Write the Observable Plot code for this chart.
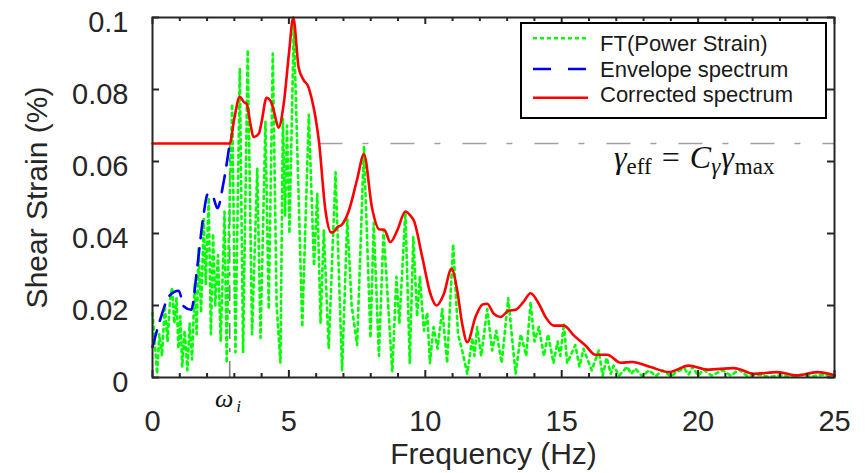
<!DOCTYPE html>
<html><head><meta charset="utf-8">
<script src="https://cdn.jsdelivr.net/npm/d3@7"></script>
<script src="https://cdn.jsdelivr.net/npm/@observablehq/plot@0.6"></script>
<style>
body{margin:0;background:#fff;}
#wrap{position:relative;width:866px;height:473px;}
#ov{position:absolute;left:0;top:0;pointer-events:none;}
</style></head>
<body><div id="wrap"></div>
<script>
// ---- data (frequency Hz, shear strain %) ----
const ftSpectrum = [
 [0.00,0.018],[0.10,0.008],[0.17,0.001],[0.25,0.012],[0.35,0.006],[0.45,0.020],[0.55,0.010],[0.65,0.022],
 [0.72,0.025],[0.80,0.015],[0.88,0.022],[0.95,0.008],[1.02,0.017],[1.09,0.003],[1.18,0.013],[1.28,0.002],
 [1.36,0.015],[1.45,0.005],[1.55,0.026],[1.62,0.012],[1.69,0.036],[1.78,0.018],[1.88,0.044],[1.95,0.026],
 [2.06,0.050],[2.14,0.012],[2.22,0.040],[2.30,0.020],[2.40,0.034],[2.50,0.010],[2.64,0.046],[2.72,0.004],
 [2.80,0.040],[2.92,0.076],[3.04,0.007],[3.20,0.086],[3.32,0.007],[3.49,0.091],[3.65,0.012],[3.84,0.058],
 [3.96,0.011],[4.14,0.071],[4.26,0.019],[4.41,0.090],[4.55,0.020],[4.69,0.004],[4.78,0.072],[4.86,0.045],
 [4.93,0.070],[5.02,0.040],[5.18,0.098],[5.49,0.014],[5.73,0.073],[5.92,0.031],[6.04,0.051],[6.16,0.015],
 [6.28,0.041],[6.46,0.008],[6.71,0.057],[6.95,0.002],[7.14,0.044],[7.30,0.020],[7.50,0.009],[7.75,0.064],
 [7.99,0.011],[8.11,0.043],[8.30,0.006],[8.47,0.041],[8.79,0.0015],[8.94,0.028],[9.05,0.015],[9.27,0.046],
 [9.43,0.004],[9.56,0.039],[9.70,0.017],[9.80,0.028],[9.95,0.013],[10.07,0.018],[10.17,0.004],[10.30,0.014],
 [10.45,0.008],[10.62,0.019],[10.80,0.004],[11.02,0.037],[11.20,0.012],[11.35,0.0075],[11.54,0.001],[11.72,0.011],
 [11.80,0.006],[11.90,0.014],[12.05,0.006],[12.27,0.019],[12.45,0.0075],[12.60,0.013],[12.80,0.004],[13.04,0.022],
 [13.31,0.001],[13.50,0.012],[13.70,0.006],[13.86,0.021],[14.00,0.010],[14.16,0.014],[14.35,0.006],[14.50,0.012],
 [14.70,0.004],[14.85,0.010],[14.95,0.006],[15.08,0.015],[15.20,0.004],[15.50,0.009],[15.65,0.003],[15.80,0.008],
 [16.10,0.002],[16.36,0.0075],[16.50,0.0005],[16.65,0.0055],[16.80,0.001],[16.90,0.0033],[17.10,0.0005],[17.40,0.003],
 [17.55,0.001],[17.70,0.0025],[17.95,0.0003],[18.20,0.002],[18.45,0.0004],[18.70,0.002],[19.00,0.0003],[19.20,0.0015],
 [19.50,0.0025],[19.65,0.0008],[19.80,0.003],[20.00,0.0005],[20.20,0.0022],[20.50,0.0005],[20.90,0.002],[21.20,0.0005],
 [21.50,0.0022],[21.80,0.0004],[22.20,0.0008],[22.60,0.0002],[23.00,0.0006],[23.40,0.0002],[23.80,0.0008],[24.20,0.0003],
 [24.60,0.0008],[25.00,0.0002]
];
const envelopeSpectrum = [
 [0,0.0085],[0.3,0.0165],[0.6,0.0225],[0.96,0.0241],[1.15,0.0197],[1.42,0.0188],[1.64,0.0306],[1.85,0.044],
 [2.03,0.051],[2.2,0.0505],[2.38,0.047],[2.6,0.054],[2.83,0.065]
];
const correctedSpectrum = [
 [0,0.065],[2.83,0.065],[3.0,0.072],[3.2,0.078],[3.35,0.0765],[3.45,0.076],[3.6,0.07],[3.7,0.0668],[3.9,0.0678],
 [4.0,0.071],[4.18,0.0777],[4.35,0.0765],[4.45,0.074],[4.62,0.0694],[4.81,0.076],[5.0,0.0898],[5.16,0.1],
 [5.36,0.086],[5.55,0.0825],[5.7,0.081],[5.85,0.077],[5.98,0.072],[6.1,0.0657],[6.34,0.0464],[6.55,0.0403],
 [6.65,0.0405],[6.77,0.0417],[6.95,0.0425],[7.2,0.0464],[7.5,0.055],[7.75,0.062],[8.05,0.047],[8.3,0.0412],
 [8.5,0.041],[8.72,0.0376],[8.97,0.0408],[9.27,0.0461],[9.45,0.045],[9.58,0.0436],[9.89,0.0334],[10.19,0.0232],
 [10.41,0.02],[10.68,0.0232],[10.96,0.0302],[11.17,0.0242],[11.35,0.015],[11.54,0.0098],[11.84,0.0168],[12.1,0.0203],
 [12.27,0.0205],[12.51,0.0177],[12.76,0.0168],[13.06,0.0186],[13.31,0.0188],[13.6,0.021],[13.86,0.0234],[14.16,0.0205],
 [14.41,0.0168],[14.71,0.0144],[15.08,0.0144],[15.44,0.0117],[15.87,0.0089],[16.24,0.0063],[16.67,0.0063],[17.16,0.0041],
 [17.58,0.0043],[18.26,0.0029],[18.93,0.0015],[19.66,0.0033],[20.33,0.0022],[21.31,0.0026],[21.55,0.0022],[22.04,0.001],
 [22.9,0.0015],[23.63,0.0006],[24.36,0.0015],[25,0.0006]
];
const gammaEff = 0.065;      // effective strain level
const omegaI = 2.83;         // transition frequency
const effLineStart = 6.1;    // where the corrected curve drops below gamma_eff
const xTicks = [0,5,10,15,20,25];
const xTickLabels = ["0","5","10","15","20","25"];
const xMinorTicks = [1,2,3,4,6,7,8,9,11,12,13,14,16,17,18,19,21,22,23,24];
const yTicks = [0,0.02,0.04,0.06,0.08,0.1];
const yTickLabels = ["0","0.02","0.04","0.06","0.08","0.1"];
const legendLabels = ["FT(Power Strain)","Envelope spectrum","Corrected spectrum"];
const xLabel = "Frequency (Hz)";
const yLabel = "Shear Strain (%)";

// ---- layout ----
const W = 866, H = 473, mL = 152, mR = 32, mT = 17, mB = 96;
const fw = W - mL - mR, fh = H - mT - mB;
const ink = "#262626";
const cGreen = "#00ff00", cBlue = "#0000ee", cRed = "#ff0000";

const chart = Plot.plot({
  width: W, height: H, marginLeft: mL, marginRight: mR, marginTop: mT, marginBottom: mB,
  x: {domain: [0, 25]},
  y: {domain: [0, 0.1]},
  style: {fontFamily: "'Liberation Sans', Arial, Helvetica, sans-serif", fontSize: "29px", color: ink, background: "#fff", overflow: "visible"},
  marks: [
    Plot.ruleY([gammaEff], {x1: effLineStart, x2: 25, stroke: "#a0a0a0", strokeWidth: 1.6, strokeDasharray: "24,20,6,22"}),
    Plot.ruleX([omegaI], {y1: 0, y2: gammaEff, stroke: "#808080", strokeWidth: 1.6, strokeDasharray: "16,9,4,9"}),
    Plot.line(ftSpectrum, {x: d => d[0], y: d => d[1], stroke: cGreen, strokeWidth: 2.6, strokeDasharray: "3,4"}),
    Plot.line(envelopeSpectrum, {x: d => d[0], y: d => d[1], stroke: cBlue, strokeWidth: 2.6, strokeDasharray: "17,10", curve: "monotone-x"}),
    Plot.line(correctedSpectrum, {x: d => d[0], y: d => d[1], stroke: cRed, strokeWidth: 2.6, curve: "monotone-x"}),
    // inward ticks (box on)
    Plot.tickX(xMinorTicks, {x: d => d, insetTop: fh - 4, stroke: ink, strokeWidth: 2}),
    Plot.tickX(xMinorTicks, {x: d => d, insetBottom: fh - 4, stroke: ink, strokeWidth: 2}),
    Plot.tickX(xTicks, {x: d => d, insetTop: fh - 7, stroke: ink, strokeWidth: 2}),
    Plot.tickX(xTicks, {x: d => d, insetBottom: fh - 7, stroke: ink, strokeWidth: 2}),
    Plot.tickY(yTicks, {y: d => d, insetRight: fw - 7, stroke: ink, strokeWidth: 2}),
    Plot.tickY(yTicks, {y: d => d, insetLeft: fw - 7, stroke: ink, strokeWidth: 2}),
    Plot.frame({stroke: ink, strokeWidth: 2}),
    Plot.axisX(xTicks, {tickSize: 0, tickPadding: 33, tickFormat: d => xTickLabels[xTicks.indexOf(d)], label: null}),
    Plot.axisY(yTicks, {tickSize: 0, tickPadding: 24, dy: 5, tickFormat: d => yTickLabels[yTicks.indexOf(d)], label: null}),
    Plot.text([xLabel], {frameAnchor: "bottom", dy: 86, lineAnchor: "bottom", fontSize: 30, fill: ink}),
    Plot.text([yLabel], {frameAnchor: "left", dx: -115, rotate: -90, textAnchor: "middle", lineAnchor: "middle", fontSize: 30, fill: ink})
  ]
});
const wrap = document.getElementById("wrap");
wrap.appendChild(chart);

// ---- overlay: legend and annotations ----
const ov = d3.select(wrap).append("svg").attr("id", "ov").attr("width", W).attr("height", H);
const lg = ov.append("g").attr("transform", "translate(521,23)");
lg.append("rect").attr("width", 305).attr("height", 95).attr("fill", "#fff").attr("stroke", "#000").attr("stroke-width", 2);
const legendStyles = [
  {color: cGreen, dash: "4,3"},
  {color: cBlue, dash: "18,17"},
  {color: cRed, dash: null}
];
const lineY = [15.3, 46, 74.7], textY = [28.2, 53.7, 78.7];
legendLabels.forEach((lab, i) => {
  const s = legendStyles[i];
  const ln = lg.append("line").attr("x1", 12).attr("x2", 67).attr("y1", lineY[i]).attr("y2", lineY[i])
    .attr("stroke", s.color).attr("stroke-width", 2.6);
  if (s.dash) ln.attr("stroke-dasharray", s.dash);
  lg.append("text").attr("x", 79).attr("y", textY[i]).attr("font-family", "'Liberation Sans', Arial, sans-serif")
    .attr("font-size", 22).attr("fill", "#1a1a1a").text(lab);
});

// gamma_eff = C_gamma gamma_max
const ge = ov.append("text").attr("x", 614).attr("y", 168).attr("font-family", "'Liberation Serif', 'Times New Roman', serif")
  .attr("font-size", 32).attr("fill", "#111");
ge.append("tspan").attr("font-style", "italic").text("γ");
ge.append("tspan").attr("font-size", 23).attr("dy", 6).text("eff");
ge.append("tspan").attr("dy", -6).attr("dx", 10).text("=");
ge.append("tspan").attr("font-style", "italic").attr("dx", 10).text("C");
ge.append("tspan").attr("font-style", "italic").attr("font-size", 23).attr("dy", 6).text("γ");
ge.append("tspan").attr("font-style", "italic").attr("dy", -6).attr("dx", 1).text("γ");
ge.append("tspan").attr("font-size", 23).attr("dy", 6).attr("dx", 1).text("max");

// omega_i
const om = ov.append("text").attr("x", 215).attr("y", 407).attr("font-family", "'Liberation Serif', 'Times New Roman', serif")
  .attr("font-size", 26).attr("font-style", "italic").attr("fill", "#111");
om.append("tspan").text("ω");
om.append("tspan").attr("font-size", 17).attr("dx", 3).attr("dy", 5).text("i");
</script>
</body></html>
